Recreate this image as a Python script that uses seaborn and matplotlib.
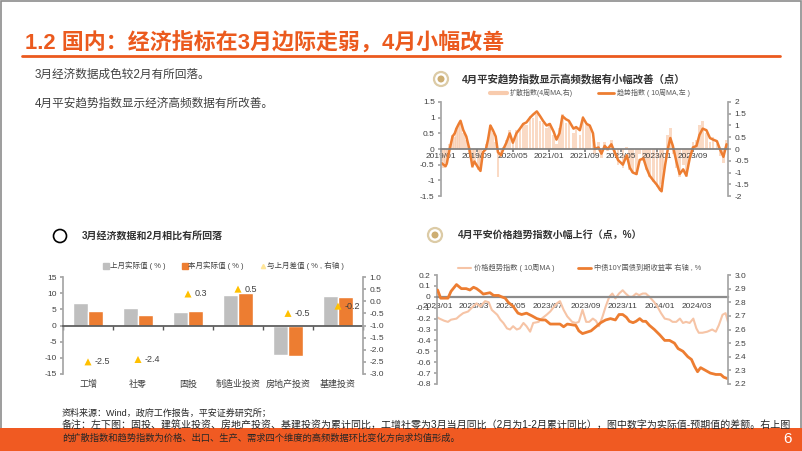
import numpy as np
import pandas as pd
import matplotlib
matplotlib.use("Agg")
import matplotlib.pyplot as plt
import matplotlib.dates as mdates
from matplotlib.lines import Line2D
from matplotlib.patches import Rectangle, Ellipse
from matplotlib.ticker import FuncFormatter
import seaborn as sns

# ---- data: 3月经济数据 (bottom left) ----
categories = ["工增", "社零", "固投", "制造业投资", "房地产投资", "基建投资"]
prev_vals = [7.0, 5.5, 4.2, 9.4, -9.0, 9.0]      # 上月实际值（%）
curr_vals = [4.5, 3.1, 4.5, 9.9, -9.5, 8.8]      # 本月实际值（%）
diff_vals = [-2.5, -2.4, 0.3, 0.5, -0.5, -0.2]   # 与上月差值（%，右轴）

# ---- data: 平安趋势指数 (top right) ----
trend_dates = [
    "2019-01-04", "2019-01-18", "2019-02-01", "2019-02-10", "2019-02-20", "2019-03-01", "2019-03-20",
    "2019-04-04", "2019-04-15", "2019-05-01", "2019-05-13", "2019-06-01", "2019-06-21", "2019-07-12",
    "2019-08-01", "2019-08-15", "2019-09-10", "2019-09-25", "2019-10-12", "2019-11-01", "2019-11-15",
    "2019-12-01", "2019-12-18",
    "2020-01-06", "2020-01-21", "2020-02-10", "2020-02-27", "2020-03-18", "2020-04-10", "2020-05-01",
    "2020-05-25", "2020-06-18", "2020-07-10", "2020-08-01", "2020-08-25", "2020-09-15", "2020-10-10",
    "2020-11-01", "2020-11-21", "2020-12-15",
    "2021-01-06", "2021-02-01", "2021-02-20", "2021-03-12", "2021-04-01", "2021-04-25", "2021-05-15",
    "2021-06-15", "2021-07-03", "2021-07-28", "2021-08-18", "2021-09-12", "2021-10-03", "2021-10-25",
    "2021-11-06", "2021-12-01", "2021-12-21",
    "2022-01-12", "2022-02-01", "2022-02-26", "2022-03-21", "2022-04-12", "2022-05-15", "2022-06-10",
    "2022-07-01", "2022-07-21", "2022-08-15", "2022-09-06", "2022-10-01", "2022-10-21", "2022-11-12",
    "2022-12-06",
    "2023-01-01", "2023-01-21", "2023-02-01", "2023-02-10", "2023-02-25", "2023-03-15", "2023-04-01",
    "2023-04-18", "2023-05-12", "2023-06-03", "2023-06-27", "2023-07-18", "2023-08-10", "2023-09-01",
    "2023-09-25", "2023-10-15", "2023-11-06", "2023-12-01", "2023-12-25",
    "2024-01-15", "2024-02-10", "2024-03-01", "2024-03-25", "2024-04-15",
]
trend_vals = [
    -0.45, -0.50, -0.55, -0.45, -0.20, 0.00, 0.40, 0.50, 0.65, 0.80, 0.90, 0.60, 0.40, 0.00,
    -0.55, -0.40, -0.60, -0.70, -0.10, 0.00, 0.30, 0.75, 0.60,
    0.40, -0.10, -0.20, 0.00, 0.20, 0.50, 0.20, 0.50, 0.65, 0.80, 0.85, 1.00, 1.10, 1.20,
    1.05, 0.90, 0.75,
    0.80, 0.55, 0.30, 0.50, 1.05, 0.95, 0.90, 0.65, 0.70, 0.60, 1.00, 0.80, 0.75, 0.50,
    0.00, 0.05, -0.15,
    0.10, 0.00, 0.15, -0.10, -0.35, -0.50, -0.20, -0.60, -0.75, -0.80, -0.35, -0.30, -0.60,
    -0.85, -1.00,
    -1.15, -1.30, -1.35, -1.00, -0.50, 0.00, 0.35, 0.10, -0.40, -0.80, -0.65, -0.85, -0.30,
    0.05, 0.10, 0.45, 0.65, 0.60, 0.35,
    0.30, 0.25, 0.00, -0.25, 0.15,
]
diffusion_vals = [
    -0.5, -0.8, -0.6, -0.7, -0.2, 0.2, 0.6, 0.5, 0.9, 1.0, 1.1, 0.7, 0.4, -0.2,
    -0.8, -0.5, -0.9, -0.8, 0.0, 0.2, 0.5, 1.0, 0.7,
    0.3, -1.2, -0.4, 0.1, 0.4, 0.8, 0.3, 0.8, 0.9, 1.1, 1.0, 1.4, 1.3, 1.5,
    1.2, 1.1, 0.9,
    1.1, 0.6, 0.2, 0.9, 1.5, 1.1, 1.2, 0.7, 0.9, 0.6, 1.4, 1.0, 1.0, 0.4,
    -0.2, 0.3, -0.4,
    0.3, -0.1, 0.4, -0.3, -0.7, -0.8, 0.1, -0.9, -1.0, -1.1, -0.2, -0.5, -0.9,
    -1.2, -1.4,
    -1.6, -1.8, -1.5, -0.9, 0.0, 0.6, 0.9, -0.2, -0.8, -1.2, -0.7, -1.2, -0.2,
    0.3, 0.4, 1.0, 1.2, 0.7, 0.3,
    0.5, 0.2, -0.3, -0.6, 0.4,
]
trend_ticks = ["2019-01-01", "2019-09-01", "2020-05-01", "2021-01-01",
               "2021-09-01", "2022-05-01", "2023-01-01", "2023-09-01"]

# ---- data: 价格趋势指数 & 10Y 国债 (bottom right) ----
price_dates = [
    "2023-01-01", "2023-01-04", "2023-01-12", "2023-01-18", "2023-01-23",
    "2023-02-01", "2023-02-06", "2023-02-12", "2023-02-20", "2023-02-28",
    "2023-03-06", "2023-03-12", "2023-03-20", "2023-03-26", "2023-03-31",
    "2023-04-09", "2023-04-14", "2023-04-19", "2023-04-25", "2023-04-30",
    "2023-05-05", "2023-05-11", "2023-05-16", "2023-05-22", "2023-05-27",
    "2023-06-02", "2023-06-07", "2023-06-16", "2023-06-21", "2023-06-29",
    "2023-07-05", "2023-07-10", "2023-07-16", "2023-07-21", "2023-07-27",
    "2023-08-02", "2023-08-10", "2023-08-16", "2023-08-21", "2023-08-27",
    "2023-09-02", "2023-09-07", "2023-09-13", "2023-09-18", "2023-09-23", "2023-09-29",
    "2023-10-04", "2023-10-10", "2023-10-15", "2023-10-20", "2023-10-26",
    "2023-11-01", "2023-11-06", "2023-11-12", "2023-11-17", "2023-11-23", "2023-11-28",
    "2023-12-04", "2023-12-09", "2023-12-15", "2023-12-23", "2023-12-28",
    "2024-01-03", "2024-01-09", "2024-01-17", "2024-01-22", "2024-01-28",
    "2024-02-03", "2024-02-08", "2024-02-13", "2024-02-19", "2024-02-25",
    "2024-03-01", "2024-03-05", "2024-03-11", "2024-03-19", "2024-03-27",
    "2024-04-02", "2024-04-07", "2024-04-13", "2024-04-18", "2024-04-22",
]
price_vals = [
    -0.19, -0.20, -0.22, -0.23, -0.21,
    -0.20, -0.175, -0.15, -0.135, -0.09,
    -0.06, -0.09, -0.04, -0.05, -0.12,
    -0.165, -0.21, -0.24, -0.29, -0.30,
    -0.27, -0.30, -0.29, -0.24, -0.27,
    -0.32, -0.24, -0.23, -0.20, -0.165,
    -0.135, -0.10, -0.06, -0.04, -0.12,
    -0.18, -0.23, -0.24, -0.23, -0.12,
    -0.23, -0.23, -0.20, -0.22, -0.27, -0.18,
    -0.09, 0.00, 0.03, -0.015, 0.03,
    0.06, 0.03, 0.00, 0.00, 0.03, 0.015,
    0.03, 0.03, 0.00, -0.05, -0.09,
    -0.15, -0.20, -0.21, -0.23, -0.23,
    -0.20, -0.24, -0.23, -0.24, -0.20,
    -0.29, -0.33, -0.33, -0.32, -0.30,
    -0.32, -0.26, -0.165, -0.15, -0.23,
]
bond_dates = [
    "2023-01-01", "2023-01-06", "2023-01-10", "2023-01-18", "2023-01-23",
    "2023-02-01", "2023-02-09", "2023-02-17", "2023-02-23",
    "2023-03-01", "2023-03-06", "2023-03-12", "2023-03-17", "2023-03-28",
    "2023-04-03", "2023-04-11", "2023-04-16", "2023-04-22", "2023-04-27",
    "2023-05-05", "2023-05-13", "2023-05-19", "2023-05-27",
    "2023-06-05", "2023-06-13", "2023-06-21", "2023-06-27",
    "2023-07-05", "2023-07-21", "2023-07-27",
    "2023-08-02", "2023-08-16", "2023-08-21", "2023-08-27",
    "2023-09-10", "2023-09-18", "2023-09-26",
    "2023-10-04", "2023-10-12", "2023-10-20", "2023-10-26",
    "2023-11-01", "2023-11-07", "2023-11-12", "2023-11-18", "2023-11-23", "2023-11-29",
    "2023-12-04", "2023-12-09", "2023-12-15", "2023-12-23",
    "2024-01-01", "2024-01-09", "2024-01-17", "2024-01-25", "2024-01-31",
    "2024-02-08", "2024-02-16", "2024-02-22", "2024-02-27",
    "2024-03-03", "2024-03-08", "2024-03-16", "2024-03-24",
    "2024-04-02", "2024-04-10", "2024-04-15", "2024-04-21",
]
bond_vals = [
    2.89, 2.83, 2.83, 2.83, 2.88,
    2.93, 2.90, 2.90, 2.89,
    2.91, 2.90, 2.88, 2.86, 2.87,
    2.85, 2.85, 2.84, 2.83, 2.80,
    2.77, 2.72, 2.71, 2.72,
    2.70, 2.68, 2.67, 2.67,
    2.64, 2.64, 2.62,
    2.64, 2.63, 2.59, 2.57,
    2.59, 2.62, 2.65,
    2.67, 2.68, 2.67, 2.71,
    2.71, 2.69, 2.66, 2.65, 2.66, 2.68,
    2.66, 2.66, 2.63, 2.60,
    2.56, 2.52, 2.52, 2.50, 2.46,
    2.44, 2.40, 2.38, 2.33,
    2.29, 2.32, 2.30, 2.28,
    2.27, 2.27, 2.25, 2.24,
]
price_ticks = ["2023-01-01", "2023-03-01", "2023-05-01", "2023-07-01",
               "2023-09-01", "2023-11-01", "2024-01-01", "2024-03-01"]

# ---- style ----
sns.set_theme(style="white")
plt.rcParams['font.family'] = ['Liberation Sans', 'Noto Sans CJK SC', 'DejaVu Sans']
plt.rcParams['axes.unicode_minus'] = False

ORANGE = "#ED7D31"
TITLE_OR = "#EB5A1E"
BAND_OR = "#F05A22"
GRAY_BAR = "#BFBFBF"
PEACH = "#F8CBAD"
LIGHT_LINE = "#F6C4A6"
GOLD = "#FFC000"
TXT = "#404040"
AX_GRAY = "#A6A6A6"

W, H = 802, 451
fig = plt.figure(figsize=(W / 100, H / 100), dpi=100)


def fx(x):
    return x / W


def fy(y):
    return 1 - y / H


def box(x0, y0, x1, y1):
    return [fx(x0), fy(y1), (x1 - x0) / W, (y1 - y0) / H]


def one_dec(v, _):
    s = f"{v:.1f}"
    return "0" if s in ("0.0", "-0.0") else s


def short(v, _):
    s = f"{v:.1f}".rstrip("0").rstrip(".")
    return "0" if s in ("", "-0") else s


def gold_icon(x, y):
    fig.add_artist(Ellipse((fx(x), fy(y)), 14 / W, 14 / H, transform=fig.transFigure,
                           facecolor="white", edgecolor="#DCCBA6", lw=1.6))
    fig.add_artist(Ellipse((fx(x), fy(y)), 7 / W, 7 / H, transform=fig.transFigure,
                           facecolor="#CDAE73", edgecolor="none"))


# slide frame, header
fig.add_artist(Rectangle((0.001, 0.0), 0.998, 0.997, transform=fig.transFigure,
                         fill=False, edgecolor="#8C8C8C", lw=1.2))
fig.text(fx(25), fy(44), "1.2 国内：经济指标在3月边际走弱，4月小幅改善", fontsize=15.8,
         fontweight="bold", color=TITLE_OR, va="center", ha="left")
fig.add_artist(Line2D([fx(22), fx(780)], [fy(56), fy(56)], color=TITLE_OR, lw=2))

fig.text(fx(35), fy(75), "3月经济数据成色较2月有所回落。", fontsize=8.4, color=TXT, va="center")
fig.text(fx(35), fy(104), "4月平安趋势指数显示经济高频数据有所改善。", fontsize=8.4, color=TXT, va="center")

# ---------------- bottom left: bars ----------------
fig.add_artist(Ellipse((fx(60), fy(236)), 13 / W, 13 / H, transform=fig.transFigure,
                       fill=False, edgecolor="black", lw=1.2))
fig.text(fx(82), fy(236), "3月经济数据和2月相比有所回落", fontsize=7.2, fontweight="bold",
         color="#333333", va="center")

ax_bl = fig.add_axes(box(63, 277, 363, 374))
bar_df = pd.DataFrame({
    "指标": categories * 2,
    "数值": prev_vals + curr_vals,
    "系列": ["上月实际值（%）"] * len(categories) + ["本月实际值（%）"] * len(categories),
})
sns.barplot(data=bar_df, x="指标", y="数值", hue="系列", palette=[GRAY_BAR, ORANGE],
            width=0.6, saturation=1, errorbar=None, legend=False, ax=ax_bl)
ax_bl.set_xlim(-0.5, len(categories) - 0.5)
ax_bl.set_ylim(-15, 15)
ax_bl.set_yticks(range(-15, 16, 5))
ax_bl.set_xlabel("")
ax_bl.set_ylabel("")
ax_bl.spines["bottom"].set_position(("data", 0))
ax_bl.spines["bottom"].set_color("#595959")
ax_bl.spines["left"].set_color(AX_GRAY)
ax_bl.spines["top"].set_visible(False)
ax_bl.spines["right"].set_visible(False)
ax_bl.set_xticks(np.arange(-0.5, len(categories), 1), minor=True)
ax_bl.tick_params(axis="x", which="major", bottom=True, length=0, pad=39, labelsize=6.5, labelcolor=TXT)
ax_bl.tick_params(axis="x", which="minor", bottom=True, length=3, direction="out", color="#595959")
ax_bl.tick_params(axis="y", left=True, length=2.5, direction="out", color=AX_GRAY,
                  labelsize=6, labelcolor=TXT, pad=2)

ax_bl2 = ax_bl.twinx()
sns.scatterplot(x=np.arange(len(categories)), y=diff_vals, marker="^", s=26, color=GOLD,
                edgecolor="none", legend=False, ax=ax_bl2)
for i, v in enumerate(diff_vals):
    ax_bl2.annotate(f"{v:.1f}", (i, v), xytext=(5, 0), textcoords="offset points",
                    va="center", fontsize=6.5, color=TXT)
ax_bl2.set_ylim(-3, 1)
ax_bl2.set_yticks(np.arange(-3, 1.01, 0.5))
ax_bl2.yaxis.set_major_formatter(FuncFormatter(lambda v, _: f"{v:.1f}"))
for s in ["top", "left", "bottom"]:
    ax_bl2.spines[s].set_visible(False)
ax_bl2.spines["right"].set_color(AX_GRAY)
ax_bl2.tick_params(axis="y", right=True, length=2.5, direction="out", color=AX_GRAY,
                   labelsize=6, labelcolor=TXT, pad=2)
ax_bl2.set_ylabel("")
bl_handles = [
    Line2D([], [], marker="s", ls="", color=GRAY_BAR, markersize=4),
    Line2D([], [], marker="s", ls="", color=ORANGE, markersize=4),
    Line2D([], [], marker="^", ls="", color="#FFE699", markersize=3),
]
ax_bl2.legend(bl_handles, ["上月实际值 ( % )", "本月实际值 ( % )", "与上月差值 ( % , 右轴 )"],
              loc="center", bbox_to_anchor=(0.535, 1.113), ncol=3, frameon=False, fontsize=5.4,
              handlelength=0.8, handletextpad=0.1, columnspacing=2.2, labelcolor=TXT)

# ---------------- top right: 趋势指数 ----------------
gold_icon(441, 79)
fig.text(fx(462), fy(79), "4月平安趋势指数显示高频数据有小幅改善（点）", fontsize=7.5,
         fontweight="bold", color="#333333", va="center")

ax_tr = fig.add_axes(box(441, 102, 728, 196))
ax_tr2 = ax_tr.twinx()
tdates = pd.to_datetime(trend_dates)
ax_tr2.bar(tdates, diffusion_vals, width=18, color=PEACH, alpha=0.7, linewidth=0)
sns.lineplot(x=tdates, y=trend_vals, color=ORANGE, lw=1.8, ax=ax_tr)
ax_tr.set_zorder(ax_tr2.get_zorder() + 1)
ax_tr.patch.set_visible(False)
ax_tr.set_xlim(pd.Timestamp("2019-01-01"), pd.Timestamp("2024-04-25"))
ax_tr.set_ylim(-1.5, 1.5)
ax_tr.set_yticks([1.5, 1, 0.5, 0, -0.5, -1, -1.5])
ax_tr.yaxis.set_major_formatter(FuncFormatter(short))
ax_tr2.set_ylim(-2, 2)
ax_tr2.set_yticks(np.arange(-2, 2.01, 0.5))
ax_tr2.yaxis.set_major_formatter(FuncFormatter(short))
ax_tr.set_xticks(pd.to_datetime(trend_ticks))
ax_tr.xaxis.set_major_formatter(mdates.DateFormatter("%Y/%m"))
ax_tr.set_xlabel("")
ax_tr.set_ylabel("")
ax_tr2.set_ylabel("")
ax_tr.spines["bottom"].set_position(("data", 0))
ax_tr.spines["bottom"].set_color("#7F7F7F")
ax_tr.spines["left"].set_color(AX_GRAY)
ax_tr.spines["top"].set_visible(False)
ax_tr.spines["right"].set_visible(False)
for s in ["top", "left", "bottom"]:
    ax_tr2.spines[s].set_visible(False)
ax_tr2.spines["right"].set_color(AX_GRAY)
ax_tr.tick_params(axis="x", bottom=True, length=2, direction="out", color="#7F7F7F",
                  labelsize=6, labelcolor=TXT, pad=1)
ax_tr.tick_params(axis="y", left=True, length=2.5, direction="out", color=AX_GRAY,
                  labelsize=6, labelcolor=TXT, pad=2)
ax_tr2.tick_params(axis="y", right=True, length=2.5, direction="out", color=AX_GRAY,
                   labelsize=6, labelcolor=TXT, pad=2)
ax_tr.legend([Line2D([], [], color=PEACH, lw=3), Line2D([], [], color=ORANGE, lw=2)],
             ["扩散指数(4周MA,右)", "趋势指数 ( 10周MA,左 )"], loc="center",
             bbox_to_anchor=(0.52, 1.095), ncol=2, frameon=False, fontsize=5.0,
             handlelength=2.4, handletextpad=0.4, columnspacing=3.6, labelcolor="#595959")

# ---------------- bottom right: 价格趋势指数 ----------------
gold_icon(435, 235)
fig.text(fx(458), fy(235), "4月平安价格趋势指数小幅上行（点，%）", fontsize=7.2,
         fontweight="bold", color="#333333", va="center")

ax_br = fig.add_axes(box(437, 275, 728, 384))
sns.lineplot(x=pd.to_datetime(price_dates), y=price_vals, color=LIGHT_LINE, lw=1.5, ax=ax_br)
ax_br2 = ax_br.twinx()
sns.lineplot(x=pd.to_datetime(bond_dates), y=bond_vals, color=ORANGE, lw=2, ax=ax_br2)
ax_br.set_xlim(pd.Timestamp("2022-12-31"), pd.Timestamp("2024-04-22"))
ax_br.set_ylim(-0.8, 0.2)
ax_br.set_yticks(np.arange(-0.8, 0.21, 0.1))
ax_br.yaxis.set_major_formatter(FuncFormatter(one_dec))
ax_br2.set_ylim(2.2, 3.0)
ax_br2.set_yticks(np.arange(2.2, 3.01, 0.1))
ax_br2.yaxis.set_major_formatter(FuncFormatter(lambda v, _: f"{v:.1f}"))
ax_br.set_xticks(pd.to_datetime(price_ticks))
ax_br.xaxis.set_major_formatter(mdates.DateFormatter("%Y/%m"))
ax_br.set_xlabel("")
ax_br.set_ylabel("")
ax_br2.set_ylabel("")
ax_br.spines["bottom"].set_position(("data", 0))
ax_br.spines["bottom"].set_color("#8C8C8C")
ax_br.spines["bottom"].set_linewidth(1.6)
ax_br.spines["left"].set_color(AX_GRAY)
ax_br.spines["top"].set_visible(False)
ax_br.spines["right"].set_visible(False)
for s in ["top", "left", "bottom"]:
    ax_br2.spines[s].set_visible(False)
ax_br2.spines["right"].set_color(AX_GRAY)
ax_br.tick_params(axis="x", bottom=True, length=0, labelsize=6, labelcolor=TXT, pad=4.5)
ax_br.tick_params(axis="y", left=True, length=2.5, direction="out", color=AX_GRAY,
                  labelsize=6, labelcolor=TXT, pad=2)
ax_br2.tick_params(axis="y", right=True, length=2.5, direction="out", color=AX_GRAY,
                   labelsize=6, labelcolor=TXT, pad=2)
ax_br2.legend([Line2D([], [], color=LIGHT_LINE, lw=1.5), Line2D([], [], color=ORANGE, lw=2)],
              ["价格趋势指数 ( 10周MA )", "中债10Y国债到期收益率 右轴 , %"], loc="center",
              bbox_to_anchor=(0.49, 1.064), ncol=2, frameon=False, fontsize=5.2,
              handlelength=1.8, handletextpad=0.4, columnspacing=3.2, labelcolor="#595959")

# ---------------- footer ----------------
fig.add_artist(Rectangle((0, 0), 1, (H - 428) / H, transform=fig.transFigure,
                         facecolor=BAND_OR, edgecolor="none", zorder=5))
fig.text(fx(62), fy(413), "资料来源：Wind，政府工作报告，平安证券研究所；", fontsize=6.5,
         color="#262626", va="center", zorder=6)
fig.text(fx(62), fy(426), "备注：左下图：固投、建筑业投资、房地产投资、基建投资为累计同比，工增社零为3月当月同比"
         "（2月为1-2月累计同比），图中数字为实际值-预期值的差额。右上图", fontsize=7.2,
         color="#262626", va="center", zorder=6)
fig.text(fx(62), fy(438), "的扩散指数和趋势指数为价格、出口、生产、需求四个维度的高频数据环比变化方向求均值形成。",
         fontsize=6.7, color="#262626", va="center", zorder=6)
fig.text(fx(787), fy(439), "6", fontsize=11, color="white", va="center", ha="center", zorder=6)

fig.savefig("out.png", dpi=100)
